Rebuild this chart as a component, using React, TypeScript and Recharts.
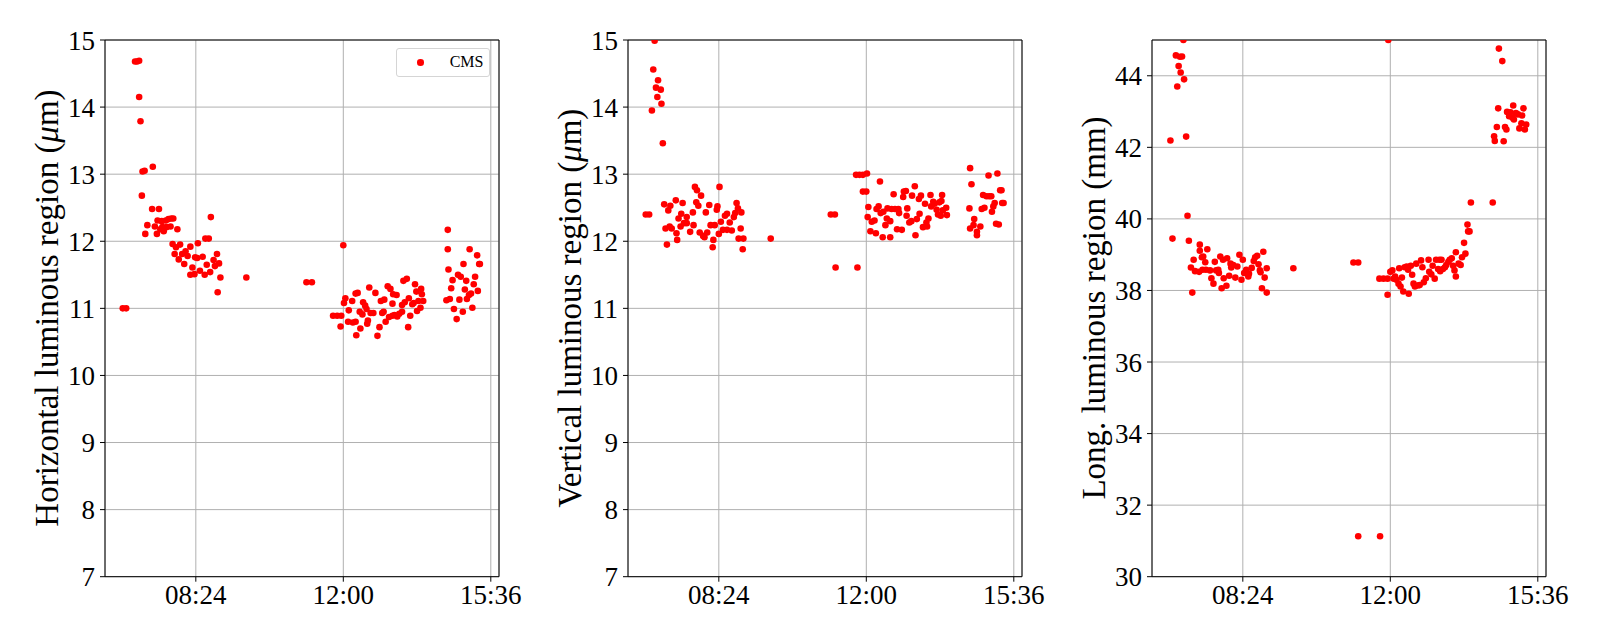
import {
  CartesianGrid,
  Label,
  ReferenceLine,
  Scatter,
  ScatterChart,
  XAxis,
  YAxis,
} from "recharts";

// time of day in minutes since midnight, value
type Pt = [number, number];

const timeTicks = [504, 720, 936];
const timeDomain: [number, number] = [371, 948];
const umTicks = [7, 8, 9, 10, 11, 12, 13, 14, 15];
const mmTicks = [30, 32, 34, 36, 38, 40, 42, 44];

const horizontalPts: Pt[] = [
  [397, 11.0], [402, 11.0],
  [415, 14.68], [418, 14.68], [421, 14.69], [421, 14.15], [423, 13.79],
  [426, 13.04], [429, 13.05], [441, 13.11], [425, 12.68], [440, 12.48], [450, 12.48],
  [433, 12.24], [444, 12.22], [448, 12.31], [454, 12.3], [460, 12.31], [464, 12.33],
  [468, 12.34], [471, 12.34], [430, 12.11], [447, 12.11], [452, 12.18], [457, 12.15],
  [461, 12.21], [467, 12.22], [455, 12.21], [477, 12.18], [526, 12.36],
  [470, 11.96], [475, 11.91], [481, 11.95], [507, 11.97], [496, 11.92],
  [473, 11.81], [484, 11.81], [489, 11.85], [492, 11.78], [479, 11.73], [487, 11.66],
  [503, 11.76], [506, 11.75], [514, 11.77], [499, 11.61], [496, 11.5], [502, 11.51],
  [510, 11.56], [517, 11.5], [520, 11.65], [525, 11.54], [530, 11.72], [532, 11.63],
  [535, 11.81], [538, 11.67], [518, 12.04], [523, 12.04], [540, 11.46], [536, 11.24],
  [578, 11.46], [666, 11.39], [674, 11.39], [720, 11.94],
  [705, 10.89], [711, 10.89], [717, 10.89], [716, 10.73],
  [723, 11.15], [721, 11.08], [728, 10.97], [733, 11.11], [738, 11.22], [741, 11.23],
  [727, 10.8], [734, 10.79], [738, 10.8], [739, 10.6], [745, 10.7], [744, 10.95],
  [748, 10.91], [749, 11.09], [752, 11.04], [754, 10.99], [758, 11.31], [755, 10.77],
  [756, 10.82], [760, 10.93], [764, 10.93], [767, 11.23], [770, 10.59], [773, 10.72],
  [775, 11.11], [777, 10.93], [779, 10.95], [780, 11.13], [782, 10.8], [785, 11.33],
  [789, 11.29], [792, 11.07], [793, 11.21], [798, 11.2], [787, 10.87], [792, 10.89],
  [795, 10.9], [799, 10.88], [802, 10.92], [806, 10.95], [806, 11.05], [810, 11.09],
  [808, 11.41], [813, 11.44], [816, 11.15], [818, 10.89], [815, 10.72], [821, 11.06],
  [823, 11.08], [825, 11.36], [827, 11.25], [828, 10.96], [830, 11.11], [833, 11.01],
  [834, 11.29], [835, 11.21], [837, 11.11],
  [873, 12.17], [873, 11.88], [874, 11.58], [878, 11.3], [880, 11.42], [871, 11.12],
  [876, 11.14], [882, 10.99], [886, 10.84], [888, 11.5], [892, 11.47], [890, 11.13],
  [895, 10.95], [896, 11.66], [898, 11.28], [900, 11.41], [901, 11.14], [904, 11.2],
  [905, 11.88], [907, 11.22], [909, 11.01], [911, 11.36], [913, 11.47], [916, 11.79],
  [917, 11.26], [919, 11.66], [920, 11.66],
];

const verticalPts: Pt[] = [
  [410, 14.99], [408, 14.56], [415, 14.4], [412, 14.29], [419, 14.26], [414, 14.15],
  [420, 14.05], [406, 13.95], [422, 13.46], [397, 12.4], [402, 12.4],
  [424, 12.55], [430, 12.46], [433, 12.53], [441, 12.61], [451, 12.57], [445, 12.34],
  [449, 12.41], [457, 12.36], [466, 12.43], [469, 12.81], [472, 12.76], [478, 12.68],
  [471, 12.58], [474, 12.53], [485, 12.43], [490, 12.54], [502, 12.52], [501, 12.47],
  [505, 12.81], [426, 12.19], [432, 12.22], [435, 12.19], [442, 12.12], [448, 12.22],
  [453, 12.27], [457, 12.27], [462, 12.14], [467, 12.24], [476, 12.13], [481, 12.08],
  [483, 12.06], [487, 12.13], [492, 12.24], [498, 12.24], [504, 12.11], [507, 12.29],
  [513, 12.38], [516, 12.41], [520, 12.28], [526, 12.36], [528, 12.42], [530, 12.57],
  [532, 12.49], [537, 12.43], [510, 12.17], [516, 12.17], [523, 12.16], [536, 12.19],
  [533, 12.04], [540, 12.04], [496, 12.02], [443, 12.02], [428, 11.95], [495, 11.91],
  [539, 11.88], [580, 12.04],
  [668, 12.4], [674, 12.4], [675, 11.61], [707, 11.61],
  [705, 12.99], [710, 12.99], [715, 12.99], [721, 13.01], [715, 12.74], [720, 12.74],
  [740, 12.89],
  [723, 12.51], [722, 12.36], [726, 12.15], [728, 12.29], [732, 12.31], [734, 12.12],
  [735, 12.48], [738, 12.52], [741, 12.42], [745, 12.44], [744, 12.06], [748, 12.24],
  [751, 12.49], [750, 12.34], [755, 12.3], [755, 12.06], [757, 12.48], [760, 12.7],
  [762, 12.48], [767, 12.48], [768, 12.42], [765, 12.18], [772, 12.17], [774, 12.66],
  [775, 12.74], [778, 12.75], [780, 12.49], [779, 12.38], [783, 12.28], [786, 12.3],
  [787, 12.68], [791, 12.82], [792, 12.09], [794, 12.33], [797, 12.63], [798, 12.41],
  [800, 12.68], [803, 12.21], [806, 12.56], [808, 12.28], [809, 12.22], [811, 12.34],
  [814, 12.69], [815, 12.52], [818, 12.59], [820, 12.56], [823, 12.47], [825, 12.4],
  [827, 12.58], [829, 12.38], [830, 12.6], [832, 12.46], [831, 12.69], [837, 12.5],
  [838, 12.39],
  [872, 13.09], [874, 12.85], [871, 12.49], [872, 12.19], [877, 12.24], [878, 12.33],
  [882, 12.14], [882, 12.09], [887, 12.22], [889, 12.48], [893, 12.5], [891, 12.69],
  [896, 12.67], [900, 12.67], [903, 12.67], [899, 12.98], [904, 12.44], [906, 12.52],
  [908, 12.57], [910, 12.26], [914, 12.25], [912, 13.01], [916, 12.76], [918, 12.76],
  [919, 12.57], [921, 12.57],
];

const longPts: Pt[] = [
  [417, 45.0], [406, 44.57], [412, 44.53], [415, 44.54], [410, 44.27], [413, 44.09],
  [418, 43.9], [408, 43.7], [398, 42.19], [421, 42.3], [423, 40.09], [401, 39.45],
  [425, 39.39],
  [441, 39.28], [441, 39.11], [452, 39.15], [432, 38.86], [428, 38.64], [434, 38.54],
  [440, 38.52], [444, 38.93], [446, 38.95], [449, 38.79], [445, 38.58], [450, 38.58],
  [456, 38.56], [458, 38.34], [461, 38.19], [463, 38.8], [465, 38.56], [468, 38.58],
  [469, 38.49], [471, 38.95], [473, 38.06], [475, 38.86], [476, 38.34], [480, 38.13],
  [481, 38.9], [484, 38.41], [486, 38.75], [487, 38.64], [490, 38.71], [493, 38.36],
  [496, 38.67], [499, 39.0], [502, 38.3], [504, 38.86], [506, 38.49], [509, 38.58],
  [512, 38.39], [513, 38.47], [517, 38.63], [520, 38.82], [522, 38.93], [525, 38.97],
  [527, 38.73], [529, 38.56], [530, 38.51], [534, 39.08], [536, 38.36], [539, 38.62],
  [532, 38.06], [539, 37.94], [430, 37.94], [578, 38.62],
  [666, 38.78], [673, 38.78], [717, 45.0], [673, 31.13], [705, 31.13],
  [704, 38.33], [710, 38.33], [716, 38.33], [716, 37.88], [720, 38.52], [723, 38.56],
  [725, 38.33], [727, 38.39], [729, 38.3], [732, 38.19], [733, 38.62], [735, 38.11],
  [737, 38.36], [739, 37.97], [741, 38.65], [744, 38.67], [747, 37.91], [746, 38.58],
  [750, 38.69], [752, 38.44], [754, 38.19], [756, 38.11], [758, 38.75], [760, 38.14],
  [763, 38.15], [765, 38.84], [767, 38.65], [769, 38.23], [772, 38.34], [776, 38.86],
  [777, 38.52], [780, 38.45], [782, 38.69], [785, 38.33], [787, 38.86], [790, 38.6],
  [792, 38.86], [793, 38.54], [795, 38.86], [797, 38.6], [800, 38.65], [802, 38.71],
  [805, 38.8], [807, 38.86], [810, 38.9], [812, 38.69], [814, 38.56], [816, 38.39],
  [816, 39.07], [820, 38.75], [823, 38.71], [825, 38.93], [828, 39.33], [830, 39.03],
  [833, 39.84], [834, 39.65], [836, 39.65], [838, 40.46], [870, 40.46],
  [879, 44.76], [884, 44.41], [872, 42.31], [873, 42.18], [876, 42.57], [878, 43.09],
  [886, 42.17], [888, 42.57], [890, 42.5], [891, 42.99], [894, 42.87], [896, 42.98],
  [900, 43.17], [899, 42.83], [901, 42.78], [904, 42.96], [907, 42.92], [909, 42.53],
  [912, 42.67], [913, 42.89], [915, 43.09], [917, 42.5], [919, 42.64],
];

const FONT = "'Liberation Serif', 'Times New Roman', serif";
const RED = "#ff0000";

const fmtTime = (m: number) =>
  `${String(Math.floor(m / 60)).padStart(2, "0")}:${String(m % 60).padStart(2, "0")}`;

const dot = (p: any) => <circle cx={p.cx} cy={p.cy} r={3.3} fill={RED} />;

function Panel(props: {
  left: number;
  points: Pt[];
  domain: [number, number];
  ticks: number[];
  label: React.ReactNode;
}) {
  const { left, points, domain, ticks, label } = props;
  const data = points.map(([t, v]) => ({ t, v }));
  const tickStyle = { fill: "#000", fontSize: 27, fontFamily: FONT };
  return (
    <div style={{ position: "absolute", left, top: 0 }}>
      <ScatterChart
        width={534}
        height={640}
        margin={{ top: 40, right: 40, bottom: 23.3, left: 0 }}
      >
        <CartesianGrid stroke="#b0b0b0" strokeWidth={1} />
        <XAxis
          type="number"
          dataKey="t"
          domain={timeDomain}
          ticks={timeTicks}
          interval={0}
          allowDataOverflow
          tickFormatter={fmtTime}
          height={40}
          tickSize={5}
          tickMargin={3}
          stroke="#000"
          tick={tickStyle}
        />
        <YAxis
          type="number"
          dataKey="v"
          domain={domain}
          ticks={ticks}
          interval={0}
          allowDataOverflow
          width={100}
          tickSize={5}
          tickMargin={5}
          stroke="#000"
          tick={tickStyle}
        >
          <Label
            content={() => (
              <text
                x={42}
                y={308}
                transform="rotate(-90 42 308)"
                textAnchor="middle"
                dominantBaseline="central"
                fontFamily={FONT}
                fontSize={33}
                fill="#000"
              >
                {label}
              </text>
            )}
          />
        </YAxis>
        <ReferenceLine y={domain[1]} stroke="#000" strokeWidth={1} />
        <ReferenceLine x={timeDomain[1]} stroke="#000" strokeWidth={1} />
        <Scatter data={data} fill={RED} shape={dot} isAnimationActive={false} />
      </ScatterChart>
    </div>
  );
}

export default function App() {
  return (
    <div
      style={{
        position: "absolute",
        left: 0,
        top: 0,
        width: 1600,
        height: 640,
        background: "#fff",
      }}
    >
      <Panel
        left={4.7}
        points={horizontalPts}
        domain={[7, 15]}
        ticks={umTicks}
        label={
          <>
            Horizontal luminous region (<tspan fontStyle="italic">μ</tspan>m)
          </>
        }
      />
      <Panel
        left={527.8}
        points={verticalPts}
        domain={[7, 15]}
        ticks={umTicks}
        label={
          <>
            Vertical luminous region (<tspan fontStyle="italic">μ</tspan>m)
          </>
        }
      />
      <Panel
        left={1051.7}
        points={longPts}
        domain={[30, 45]}
        ticks={mmTicks}
        label="Long. luminous region (mm)"
      />
      <div
        style={{
          position: "absolute",
          left: 395.7,
          top: 48.3,
          width: 94,
          height: 29,
          boxSizing: "border-box",
          border: "1px solid #d5d5d5",
          borderRadius: 3,
          background: "rgba(255,255,255,0.8)",
          fontFamily: FONT,
          fontSize: 16,
        }}
      >
        <span
          style={{
            position: "absolute",
            left: 20.5,
            top: 10.2,
            width: 6.6,
            height: 6.6,
            borderRadius: "50%",
            background: RED,
          }}
        />
        <span style={{ position: "absolute", left: 53, top: 4, lineHeight: "18px" }}>
          CMS
        </span>
      </div>
    </div>
  );
}
